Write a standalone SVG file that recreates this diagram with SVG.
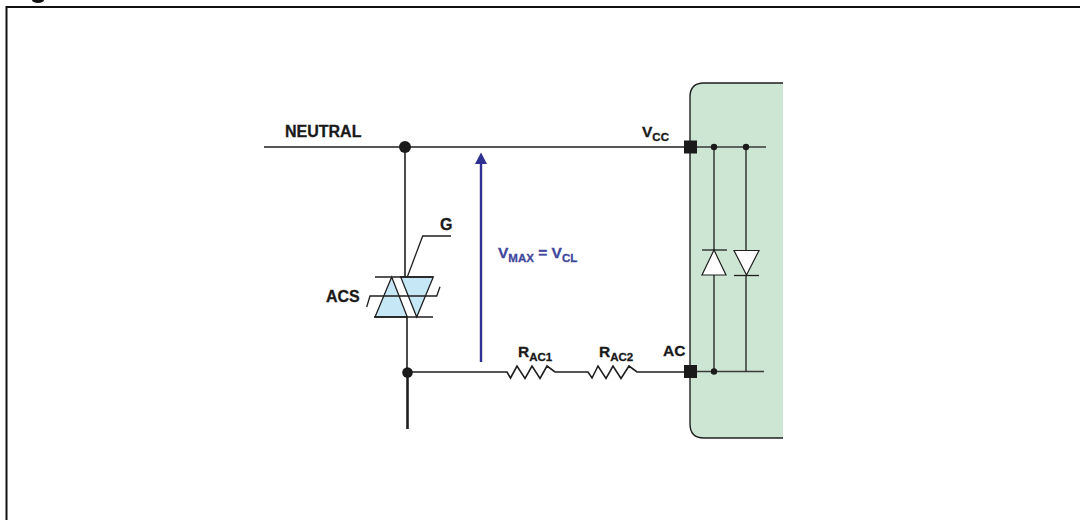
<svg xmlns="http://www.w3.org/2000/svg" width="1080" height="520" viewBox="0 0 1080 520">
<style>
text{font-family:"Liberation Sans",Arial,sans-serif;font-weight:700;font-size:15.500px;fill:#1a1a1a;stroke:#1a1a1a;stroke-width:.3}
text.big{font-size:16px}
.sub{font-size:11.500px}
text.blue{fill:#3f479c;stroke:#3f479c}
.w{fill:none;stroke:#1f1f1f;stroke-width:1.6}
.t{stroke-width:1.3}
.dot{fill:#1a1a1a}
.tri{fill:#c6e7f6;stroke:#1f1f1f;stroke-width:1.3;stroke-linejoin:miter}
.dio{fill:#fff;stroke:#1f1f1f;stroke-width:1.2}
</style>
<rect width="1080" height="520" fill="#fff"/>
<ellipse cx="38" cy="0" rx="6" ry="3" fill="#111"/>
<g id="frame"><path d="M1080 7H6.500V520" fill="none" stroke="#111" stroke-width="2"/></g>

<g id="ic-block">
<path d="M783 83H704Q690 83 690 97V424Q690 438 704 438H783Z" fill="#cde6d3"/>
<path d="M783 83H704Q690 83 690 97V424Q690 438 704 438H783" fill="none" stroke="#1f1f1f" stroke-width="1.400"/>
</g>

<g id="connectors">
<path class="w" d="M264 147H690"/>
<path class="w" d="M405 147V277"/>
<path class="w" d="M407 317V372"/>
<path d="M407.500 372V429" fill="none" stroke="#1f1f1f" stroke-width="2.600"/>
<path class="w" d="M407 372H507L510.500 378 517 366 525 378.500 532 366 540 378.500 547 366 555 372H588L592 378 598 366 606 378.500 613 366 621 378.500 629 366 637 372H690"/>
<path class="w t" style="stroke:#3a3a3a" d="M690 147H766M690 371.500H764"/>
<path class="w t" d="M714 147V250M714 275V371.500M746 147V250M746 275V371.500"/>
</g>

<g id="node-neutral"><circle class="dot" cx="405" cy="147" r="6"/><text class="big" x="285" y="137">NEUTRAL</text></g>
<g id="node-ac-junction"><circle class="dot" cx="407.500" cy="372.500" r="5.300"/></g>

<g id="node-acs">
<path class="tri" d="M391.700 277L375 317H407.300Z"/>
<path class="tri" d="M400.700 277H433.300L416.700 317Z"/>
<path class="w t" d="M375 277H433M374 317H433M366.700 307L370 296H436.700L440 286.700"/>
<path class="w t" d="M407.300 277L422.700 236H451"/>
<text class="big" x="440" y="230">G</text>
<text class="big" x="326" y="302">ACS</text>
</g>

<g id="node-vmax">
<path d="M481 362V162" fill="none" stroke="#2e3192" stroke-width="2.400"/>
<path d="M481 152.500L487 164H475Z" fill="#2e3192"/>
<text class="blue" x="498" y="258">V<tspan class="sub" dy="4">MAX</tspan><tspan dy="-4"> = V</tspan><tspan class="sub" dy="4">CL</tspan></text>
</g>

<g id="node-rac1"><text x="518" y="357">R<tspan class="sub" dy="4">AC1</tspan></text></g>
<g id="node-rac2"><text x="599" y="357">R<tspan class="sub" dy="4">AC2</tspan></text></g>

<g id="node-vcc"><rect class="dot" x="684" y="140.500" width="13" height="13"/><text x="642" y="137">V<tspan class="sub" dy="4">CC</tspan></text></g>
<g id="node-ac"><rect class="dot" x="684" y="365" width="13" height="13"/><text x="663" y="356">AC</text></g>

<g id="node-diode1">
<circle class="dot" cx="714" cy="147" r="3.200"/><circle class="dot" cx="714" cy="371.500" r="3.200"/>
<path class="dio" d="M714 250L702 275H726Z"/><path class="w t" d="M702 250H727"/>
</g>
<g id="node-diode2">
<circle class="dot" cx="746" cy="147" r="3.200"/>
<path class="dio" d="M734 250.500H759L746.500 275Z"/><path class="w t" d="M734 275.500H759"/>
</g>
</svg>
